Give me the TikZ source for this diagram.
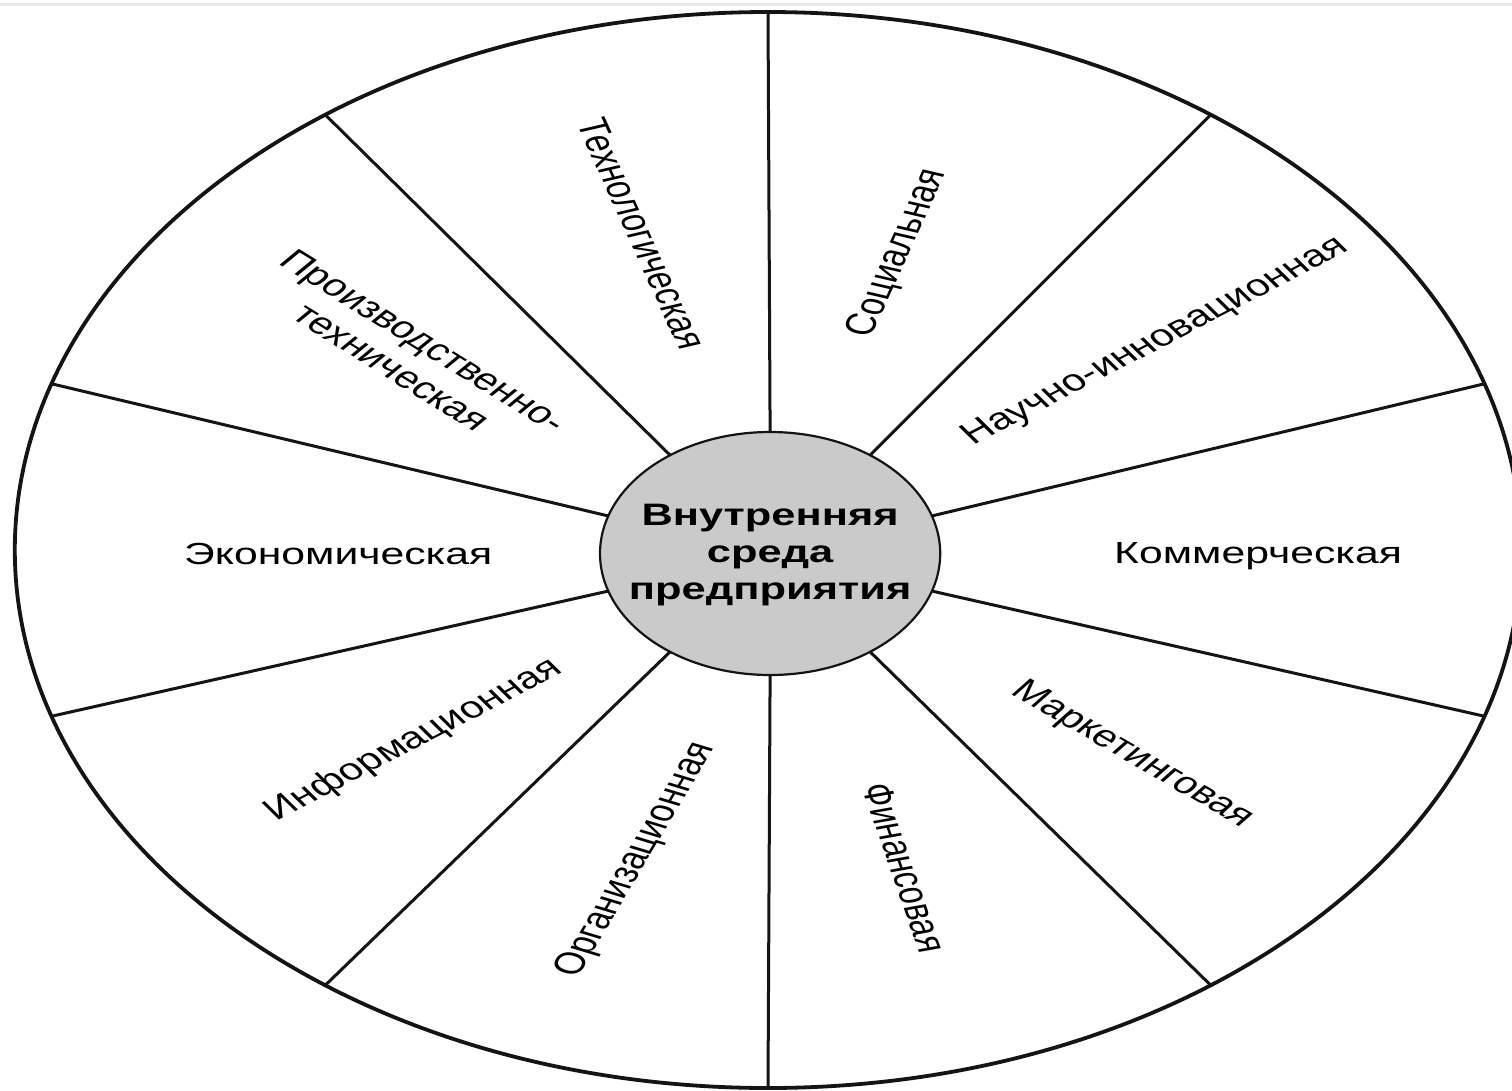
\documentclass[tikz,border=0pt]{standalone}
\usepackage{fontspec}
\setmainfont{Liberation Sans}
\definecolor{hubgray}{RGB}{202,202,202}
\definecolor{edgegray}{RGB}{232,232,232}
\begin{document}
\begin{tikzpicture}[x=1pt,y=1pt,
  lbl/.style={font=\fontsize{30.5}{35}\selectfont, inner sep=0pt, align=center},
  spoke/.style={line width=3pt, black!92},
  ring/.style={circle, draw=black!92, inner sep=0pt, outer sep=0pt}]
\useasboundingbox (0,0) rectangle (1512,-1090);
\clip (0,0) rectangle (1512,-1090);
\fill[white] (0,0) rectangle (1512,-1090);
\draw[edgegray, line width=3pt] (0,-4) -- (1512,-4);
\begin{scope}[shift={(768,-550)}, xscale=1.4, transform shape]
  \node[ring, line width=3.8pt, minimum size=1076pt] (outer) at (0,0) {};
  \node[ring, line width=2.2pt, fill=hubgray, minimum size=243pt] (inner) at (1.5,-3.5) {};
  \node[font=\bfseries\fontsize{31}{37}\selectfont, align=center, inner sep=0pt] (title) at (1.5,-5) {Внутренняя\\среда\\предприятия};
  \foreach \a in {90,54,18,-18,-54,-90,-126,-162,162,126}
    \draw[spoke] (inner.\a) -- (outer.\a);
  \node[lbl, rotate=-72] (tech) at (-90,316) {Технологическая};
  \node[lbl, rotate=72] (soc) at (93,297) {Социальная};
  \node[lbl, rotate=36] (nauch) at (277,208) {Научно-инновационная};
  \node[lbl] (komm) at (350,-6) {Коммерческая};
  \node[lbl, rotate=-39] (mark) at (260,-205) {Маркетинговая};
  \node[lbl, rotate=-76] (fin) at (98,-318) {Финансовая};
  \node[lbl, rotate=67] (org) at (-94,-310) {Организационная};
  \node[lbl, rotate=36] (inf) at (-253,-190) {Информационная};
  \node[lbl] (econ) at (-307,-4) {Экономическая};
  \node[lbl, rotate=-41] (proizv) at (-257,196) {Производственно-\\техническая};
\end{scope}
\end{tikzpicture}
\end{document}
